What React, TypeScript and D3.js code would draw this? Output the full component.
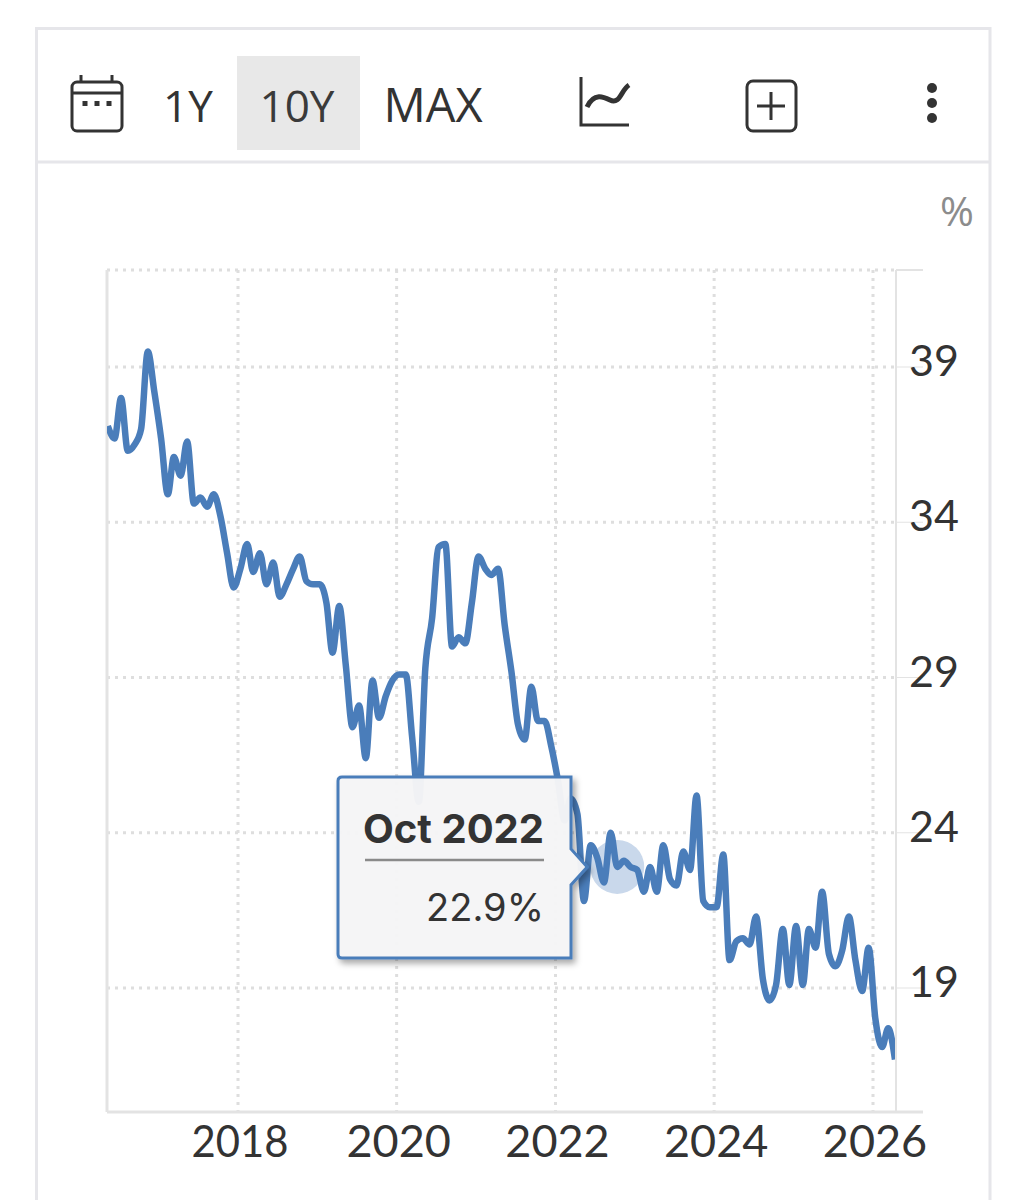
import * as d3 from 'd3';

const rangeButtons = ['1Y', '10Y', 'MAX'];
const activeRange = '10Y';
const yTicks = [39, 34, 29, 24, 19];
const xTicks = [2018, 2020, 2022, 2024, 2026];
const firstMonth = new Date(2016, 4, 12);
const unit = '%';

// monthly readings starting May 2016
const rates = [
  37.1, 36.7, 38.0, 36.3, 36.5, 37.0, 39.5, 38.2, 36.7, 34.9, 36.1, 35.5,
  36.6, 34.6, 34.8, 34.5, 34.9, 34.2, 33.0, 31.9, 32.5, 33.3, 32.4, 33.0,
  32.0, 32.7, 31.6, 32.0, 32.5, 32.9, 32.1, 32.0, 32.0, 31.4, 29.8, 31.3,
  29.4, 27.4, 28.1, 26.4, 28.9, 27.7, 28.4, 28.9, 29.1, 29.1, 27.1, 25.0,
  29.3, 30.9, 33.2, 33.3, 30.0, 30.3, 30.1, 31.4, 32.9, 32.5, 32.3, 32.5,
  30.7, 29.2, 27.5, 27.0, 28.7, 27.6, 27.6, 26.8, 25.7, 24.4, 25.1, 24.6,
  21.8, 23.6, 23.2, 22.4, 24.0, 22.9, 23.1, 22.9, 22.8, 22.1, 22.9, 22.1,
  23.6, 22.5, 22.3, 23.4, 22.8, 25.2, 21.8, 21.6, 21.6, 23.3, 19.9, 20.5,
  20.6, 20.4, 21.3, 19.3, 18.6, 19.1, 20.9, 19.1, 21.0, 19.1, 20.9, 20.3,
  22.1, 20.1, 19.7, 20.2, 21.3, 19.9, 18.9, 20.3, 18.0, 17.1, 17.7, 16.7,
];
const hoverIndex = 77;
const hoverTitle = 'Oct 2022';
const hoverValue = '22.9%';

const LINE = '#4a7dba';
const GRID = '#dedede';
const AXIS = '#e3e3e3';
const INK = '#333333';
const UI_FONT = '"Open Sans", sans-serif';
const AXIS_FONT = 'Lato, sans-serif';
const TIP_FONT = 'Inter, sans-serif';

const plot = { left: 107, right: 896, top: 270, bottom: 1112, tickEnd: 923 };

export default function App() {
  const x = d3.scaleTime()
    .domain([new Date(2018, 0, 1), new Date(2026, 0, 1)])
    .range([238, 873]);
  const y = d3.scaleLinear().domain([19, 39]).range([988, 367]);

  const points = rates.map((v, i) => ({
    date: d3.timeMonth.offset(firstMonth, i),
    value: v,
  }));

  const line = d3.line<{ date: Date; value: number }>()
    .x(d => x(d.date))
    .y(d => y(d.value))
    .curve(d3.curveMonotoneX);

  const hover = points[hoverIndex];
  const hx = x(hover.date);
  const hy = y(hover.value);

  const tip = { x: 338, y: 777, w: 233, h: 181 };
  const tipPath = d3.path();
  tipPath.moveTo(tip.x + 4, tip.y);
  tipPath.lineTo(tip.x + tip.w, tip.y);
  tipPath.lineTo(tip.x + tip.w, hy - 18);
  tipPath.lineTo(hx - 30, hy);
  tipPath.lineTo(tip.x + tip.w, hy + 18);
  tipPath.lineTo(tip.x + tip.w, tip.y + tip.h);
  tipPath.lineTo(tip.x + 4, tip.y + tip.h);
  tipPath.quadraticCurveTo(tip.x, tip.y + tip.h, tip.x, tip.y + tip.h - 4);
  tipPath.lineTo(tip.x, tip.y + 4);
  tipPath.quadraticCurveTo(tip.x, tip.y, tip.x + 4, tip.y);
  tipPath.closePath();

  const buttonX: Record<string, number> = { '1Y': 188, '10Y': 297, 'MAX': 433 };

  return (
    <svg width={1026} height={1200} viewBox="0 0 1026 1200"
      style={{ position: 'absolute', left: 0, top: 0, display: 'block', background: '#fff' }}>
      <defs>
        <clipPath id="plot-clip">
          <rect x={plot.left} y={plot.top} width={plot.right - plot.left - 1} height={plot.bottom - plot.top} />
        </clipPath>
        <filter id="tip-shadow" x="-10%" y="-10%" width="125%" height="125%">
          <feDropShadow dx="3" dy="4" stdDeviation="3" floodColor="#000" floodOpacity="0.35" />
        </filter>
      </defs>

      {/* card */}
      <path d="M36.5 1200V28.5H990V1200" fill="none" stroke="#e6e6ea" strokeWidth={3} />
      <line x1={36} x2={990} y1={162} y2={162} stroke="#e6e6ea" strokeWidth={3} />

      {/* toolbar */}
      <rect x={237} y={56} width={123} height={94} fill="#e8e8e8" />
      {rangeButtons.map(b => (
        <text key={b} x={buttonX[b]} y={122} textAnchor="middle" fontFamily={UI_FONT}
          fontSize={b === 'MAX' ? 47 : 44} fill={b === activeRange ? '#3a3a3a' : INK}>{b}</text>
      ))}

      <g fill="none" stroke={INK} strokeWidth={3}>
        <rect x={72} y={82} width={50} height={49} rx={5} />
        <line x1={72} x2={122} y1={93} y2={93} />
        <line x1={81} x2={81} y1={75} y2={82} />
        <line x1={112} x2={112} y1={75} y2={82} />
        <path d="M581 77V125H629" />
        <path d="M587 107C594 92 604 97 610 100C620 105 621 90 629 85" strokeWidth={5} />
        <rect x={747} y={81} width={49} height={50} rx={6} />
        <path d="M757 106H785M771 92V120" />
      </g>
      <g fill={INK}>
        {[85, 97, 109].map(cx => <rect key={cx} x={cx - 2.5} y={101} width={5} height={5} />)}
        {[88, 103, 118].map(cy => <circle key={cy} cx={932} cy={cy} r={5} />)}
      </g>

      <text x={974} y={226} textAnchor="end" fontFamily={UI_FONT} fontSize={41} fill="#8c8c8c">{unit}</text>

      {/* grid */}
      <g stroke={GRID} strokeWidth={3} strokeDasharray="3 5">
        <line x1={plot.left} x2={plot.right} y1={plot.top} y2={plot.top} />
        {yTicks.map(t => <line key={t} x1={plot.left} x2={plot.right} y1={y(t)} y2={y(t)} />)}
        {xTicks.map(t => {
          const px = x(new Date(t, 0, 1));
          return <line key={t} x1={px} x2={px} y1={plot.top} y2={plot.bottom} />;
        })}
      </g>

      {/* axes */}
      <g stroke={AXIS} strokeWidth={3} fill="none">
        <line x1={plot.left} x2={plot.left} y1={plot.top} y2={plot.bottom} />
        <line x1={plot.left} x2={plot.tickEnd} y1={plot.bottom} y2={plot.bottom} />
        <line x1={plot.right} x2={plot.right} y1={plot.top} y2={plot.bottom} strokeWidth={2} />
        <line x1={plot.right} x2={plot.tickEnd} y1={plot.top} y2={plot.top} strokeWidth={2} />
        {yTicks.map(t => <line key={t} x1={plot.right} x2={plot.tickEnd} y1={y(t)} y2={y(t)} strokeWidth={1} />)}
      </g>

      {yTicks.map(t => (
        <text key={t} x={909} y={y(t) + 9} fontFamily={AXIS_FONT} fontSize={43} fill={INK}>{t}</text>
      ))}
      {xTicks.map(t => (
        <text key={t} x={x(new Date(t, 0, 1)) + 2} y={1157} textAnchor="middle"
          fontFamily={AXIS_FONT} fontSize={45} fill={INK}
          {...(t === 2018 ? { textLength: 97, lengthAdjust: 'spacingAndGlyphs' } : {})}>{t}</text>
      ))}

      {/* series */}
      <circle cx={hx} cy={hy} r={27} fill="#c9d8eb" />
      <path d={line(points) ?? ''} fill="none" stroke={LINE} strokeWidth={6.5}
        strokeLinejoin="round" clipPath="url(#plot-clip)" />

      {/* tooltip */}
      <path d={tipPath.toString()} fill="#f6f6f7" fillOpacity={0.96} stroke={LINE} strokeWidth={3}
        filter="url(#tip-shadow)" />
      <text x={544} y={843} textAnchor="end" fontFamily={TIP_FONT} fontWeight={700}
        fontSize={40} fill={INK}>{hoverTitle}</text>
      <line x1={365} x2={544} y1={860} y2={860} stroke="#8a8a8a" strokeWidth={2.5} />
      <text x={544} y={921} textAnchor="end" fontFamily={TIP_FONT} fontWeight={400}
        fontSize={38} fill={INK}>{hoverValue}</text>
    </svg>
  );
}
